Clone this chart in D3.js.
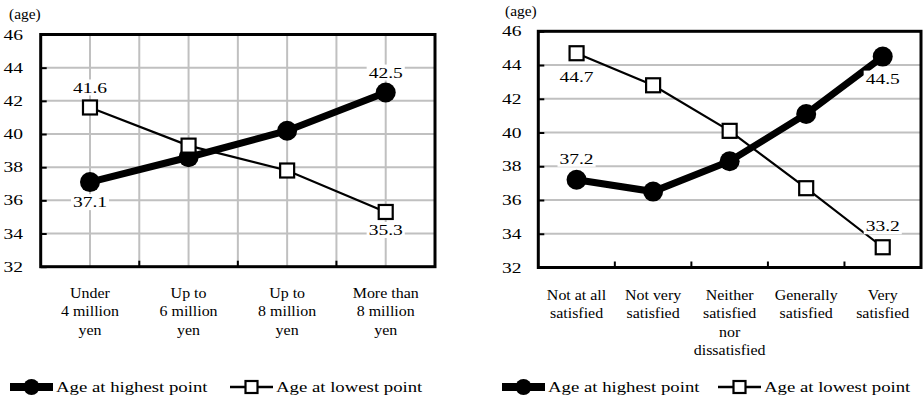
<!DOCTYPE html>
<html>
<head>
<meta charset="utf-8">
<script src="https://cdn.jsdelivr.net/npm/d3@7"></script>
</head>
<body style="margin:0;background:#fff">
<svg id="chart" width="924" height="400"></svg>
<script>
// ---------- data ----------
const yTicks = [32, 34, 36, 38, 40, 42, 44, 46];
const yUnit = "(age)";
const seriesNames = ["Age at highest point", "Age at lowest point"];

const incomeCategories = [
  ["Under", "4 million", "yen"],
  ["Up to", "6 million", "yen"],
  ["Up to", "8 million", "yen"],
  ["More than", "8 million", "yen"]
];
const incomeHighest = [37.1, 38.6, 40.2, 42.5];
const incomeLowest = [41.6, 39.3, 37.8, 35.3];

const satisfactionCategories = [
  ["Not at all", "satisfied"],
  ["Not very", "satisfied"],
  ["Neither", "satisfied", "nor", "dissatisfied"],
  ["Generally", "satisfied"],
  ["Very", "satisfied"]
];
const satisfactionHighest = [37.2, 36.5, 38.3, 41.1, 44.5];
const satisfactionLowest = [44.7, 42.8, 40.1, 36.7, 33.2];

// ---------- helpers ----------
const svg = d3.select("#chart");

function sText(g, str, x, y, size, sx, anchor) {
  const t = g.append("text")
    .attr("x", x)
    .attr("y", y + size * 0.34)
    .attr("font-family", "Liberation Serif")
    .attr("font-size", size)
    .attr("fill", "#000")
    .attr("text-anchor", anchor || "middle")
    .text(String(str));
  const w = t.node().getComputedTextLength();
  t.attr("textLength", w * sx).attr("lengthAdjust", "spacingAndGlyphs");
  t.datum({ w: w * sx });
  return t;
}

function drawChart(opt) {
  const g = svg.append("g");
  const x = d3.scaleBand().domain(opt.categories.map((d, i) => i))
    .range([opt.left, opt.right]).padding(0);
  const y = d3.scaleLinear().domain([32, 46]).range([opt.bottom, opt.top]);
  const cx = i => x(i) + x.bandwidth() / 2;

  // gridlines
  const grid = g.append("g");
  grid.selectAll("line.h").data(yTicks.slice(1, -1)).join("line")
    .attr("x1", opt.left).attr("x2", opt.right)
    .attr("y1", d => y(d)).attr("y2", d => y(d))
    .attr("stroke", "#c0c0c0").attr("stroke-width", 2);
  if (opt.vgrid) {
    const vx = [];
    opt.categories.forEach((c, i) => { vx.push(cx(i)); if (i > 0) vx.push(x(i)); });
    grid.selectAll("line.v").data(vx).join("line")
      .attr("x1", d => d).attr("x2", d => d)
      .attr("y1", opt.top).attr("y2", opt.bottom)
      .attr("stroke", "#c0c0c0").attr("stroke-width", 2);
  }

  // axis ticks (inner)
  const yAxis = d3.axisRight(y).tickValues(yTicks).tickSize(6).tickFormat("");
  const ya = g.append("g").attr("transform", `translate(${opt.left},0)`).call(yAxis);
  ya.select(".domain").remove();
  ya.selectAll("line").attr("stroke", "#000").attr("stroke-width", 2);

  const xTickPos = opt.categories.slice(1).map((c, i) => x(i + 1));
  g.selectAll("line.xt").data(xTickPos).join("line")
    .attr("x1", d => d).attr("x2", d => d)
    .attr("y1", opt.bottom).attr("y2", opt.bottom - 6)
    .attr("stroke", "#000").attr("stroke-width", 2);

  // frame
  g.append("rect").attr("x", opt.left).attr("y", opt.top)
    .attr("width", opt.right - opt.left).attr("height", opt.bottom - opt.top)
    .attr("fill", "none").attr("stroke", "#000").attr("stroke-width", 3);

  // y tick labels
  yTicks.forEach(t => sText(g, t, opt.tickX, y(t), 15, 1.3, "end"));
  sText(g, yUnit, opt.unitX, opt.unitY, 14, 1.1, "start");

  // category labels
  opt.categories.forEach((lines, i) => {
    lines.forEach((s, j) => sText(g, s, cx(i), opt.catY + j * 18.3, 14.5, 1.1, "middle"));
  });

  // lines
  const line = d3.line().x((d, i) => cx(i)).y(d => y(d));
  g.append("path").datum(opt.lowest).attr("d", line)
    .attr("fill", "none").attr("stroke", "#000").attr("stroke-width", 2.2);
  g.append("path").datum(opt.highest).attr("d", line)
    .attr("fill", "none").attr("stroke", "#000").attr("stroke-width", 7);
  g.selectAll("circle.hi").data(opt.highest).join("circle")
    .attr("cx", (d, i) => cx(i)).attr("cy", d => y(d)).attr("r", 10)
    .attr("fill", "#000");
  g.selectAll("rect.lo").data(opt.lowest).join("rect")
    .attr("x", (d, i) => cx(i) - 7).attr("y", d => y(d) - 7)
    .attr("width", 14).attr("height", 14)
    .attr("fill", "#fff").attr("stroke", "#000").attr("stroke-width", 2.2);

  // data labels
  opt.labels.forEach(l => {
    const arr = l.series === 0 ? opt.highest : opt.lowest;
    const v = arr[l.i];
    const lx = cx(l.i), ly = y(v) + l.dy;
    const t = sText(g, v.toFixed(1), lx, ly, 15, 1.3, "middle");
    const w = t.datum().w + 4, h = 16;
    g.insert("rect", function () { return t.node(); })
      .attr("x", lx - w / 2).attr("y", ly - h / 2).attr("width", w).attr("height", h)
      .attr("fill", "#fff");
  });

  // legend
  const ly = opt.legendY;
  const L = opt.legendX;
  g.append("line").attr("x1", L).attr("x2", L + 43).attr("y1", ly).attr("y2", ly)
    .attr("stroke", "#000").attr("stroke-width", 8);
  g.append("circle").attr("cx", L + 21.5).attr("cy", ly).attr("r", 8).attr("fill", "#000");
  sText(g, seriesNames[0], L + 46, ly, 15, 1.25, "start");
  const L2 = opt.legendX2;
  g.append("line").attr("x1", L2).attr("x2", L2 + 43).attr("y1", ly).attr("y2", ly)
    .attr("stroke", "#000").attr("stroke-width", 2.5);
  g.append("rect").attr("x", L2 + 15.5).attr("y", ly - 6).attr("width", 12).attr("height", 12)
    .attr("fill", "#fff").attr("stroke", "#000").attr("stroke-width", 2.2);
  sText(g, seriesNames[1], L2 + 46, ly, 15, 1.25, "start");
}

drawChart({
  categories: incomeCategories, highest: incomeHighest, lowest: incomeLowest,
  left: 40.7, right: 435, top: 34.5, bottom: 266.7, vgrid: true,
  tickX: 23, unitX: 9, unitY: 14, catY: 293,
  labels: [
    { series: 1, i: 0, dy: -20 }, { series: 0, i: 0, dy: 20 },
    { series: 0, i: 3, dy: -20 }, { series: 1, i: 3, dy: 18 }
  ],
  legendX: 10, legendX2: 230, legendY: 387
});

drawChart({
  categories: satisfactionCategories, highest: satisfactionHighest, lowest: satisfactionLowest,
  left: 538.3, right: 921, top: 31.3, bottom: 267.5, vgrid: false,
  tickX: 521.5, unitX: 505, unitY: 11, catY: 295,
  labels: [
    { series: 1, i: 0, dy: 24 }, { series: 0, i: 0, dy: -21 },
    { series: 0, i: 4, dy: 22 }, { series: 1, i: 4, dy: -21 }
  ],
  legendX: 502, legendX2: 718, legendY: 387
});
</script>
</body>
</html>
